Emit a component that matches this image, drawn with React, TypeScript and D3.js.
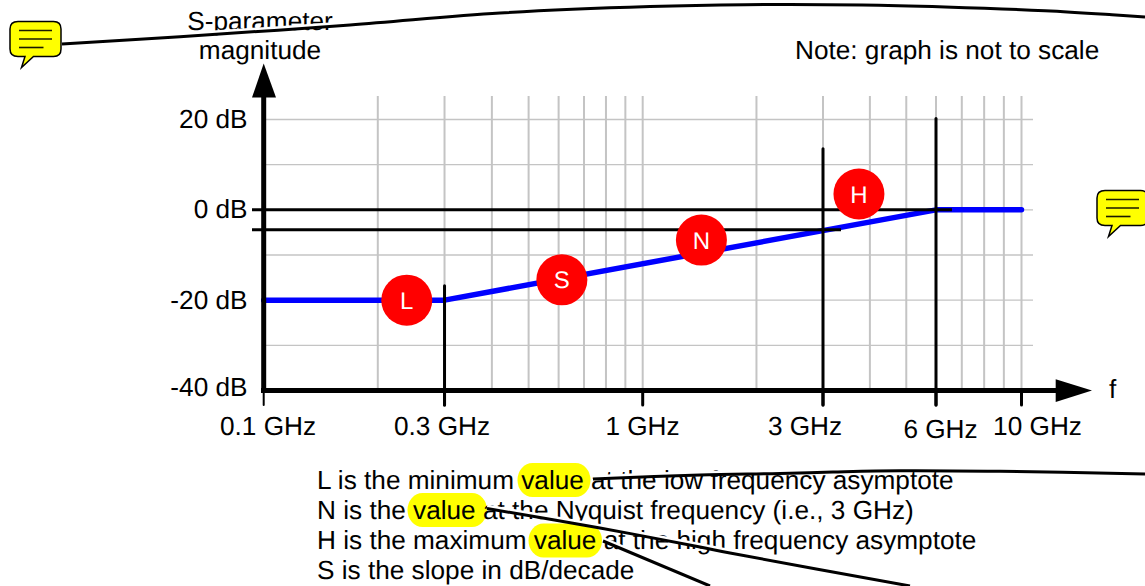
import React from "react";
import * as d3 from "d3";

const W = 1145, H = 586;
const FONT = "'Liberation Sans', Arial, sans-serif";
const TEXT_SIZE = 26.2;

const gridFreqs = [0.2, 0.3, 0.4, 0.5, 0.6, 0.7, 0.8, 0.9, 1, 2, 3, 4, 5, 6, 7, 8, 9, 10];
const gridDb = [20, 10, 0, -10, -20, -30];
const responseFreqs = [0.1, 0.3, 6, 10];
const responseDb = [-20, -20, 0, 0];
const yTickLabels = ["20 dB", "0 dB", "-20 dB", "-40 dB"];
const yTickDb = [20, 0, -20, -40];
const yLabelBaselines = [127.5, 218, 308.5, 396];
const xTickFreqs = [0.1, 0.3, 1, 3, 6, 10];
const xTickLabels = ["0.1 GHz", "0.3 GHz", "1 GHz", "3 GHz", "6 GHz", "10 GHz"];
const xLabelCenters = [268, 442, 642.5, 805, 940.5, 1037.5];
const xLabelBaselines = [435, 435, 435, 435, 437.5, 435];
const stemFreqs = [0.3, 3, 6];
const stemTopDb = [-16.8, 13.5, 20.2];
const levelDb = [0, -4.4];
const levelEndFreq = [6.6, 3.35];
const markerNames = ["L", "S", "N", "H"];
const markerFreqs = [0.2385, 0.612, 1.43, 3.74];
const markerDb = [-20, -15.5, -6.7, 3.5];
const noteLines = [
  "L is the minimum value at the low frequency asymptote",
  "N is the value at the Nyquist frequency (i.e., 3 GHz)",
  "H is the maximum value at the high frequency asymptote",
  "S is the slope in dB/decade",
];
const noteBaselines = [488.7, 518.7, 548.7, 578.7];

// Review-comment overlays (in page pixels, they are not chart data)
const commentTop: [number, number][] = [[62, 44], [180, 36.7], [350, 25], [500, 13], [650, 6.5], [745, 4.7], [862, 5], [945, 7], [1045, 10.7], [1112, 14.7], [1145, 17]];
const commentLow: [number, number][] = [[593, 479], [700, 475], [780, 473.5], [833, 472], [900, 470.7], [1000, 471.3], [1145, 474]];
const commentNyq: [number, number][] = [[487, 508.5], [600, 528], [700, 547], [730, 553], [910, 586]];
const commentHigh: [number, number][] = [[603, 541], [710, 586]];
const highlights = [
  { x: 517.5, y: 463, w: 73, h: 34 },
  { x: 407.5, y: 493, w: 79.5, h: 34 },
  { x: 528.5, y: 523.5, w: 73.5, h: 34 },
];
const iconOffsets = [[0, 0], [1087, 169]];

const x = d3.scaleLog().domain([0.1, 1, 3, 6, 10]).range([263.7, 642.7, 823, 936, 1021.5]);
const y = d3.scaleLinear().domain([-40, 20]).range([390.5, 119.5]);
const responsePath = d3.line<number>().x((d) => x(d)).y((_, i) => y(responseDb[i]))(responseFreqs) as string;
const curve = d3.line().curve(d3.curveCatmullRom.alpha(0.5));

function Comment({ pts }: { pts: [number, number][] }) {
  const d = curve(pts) as string;
  return (
    <g fill="none">
      <path d={d} stroke="#fff" strokeWidth={5} transform="translate(0,-1.5)" />
      <path d={d} stroke="#000" strokeWidth={3} />
    </g>
  );
}

function Icon({ dx, dy }: { dx: number; dy: number }) {
  return (
    <g transform={`translate(${dx},${dy})`}>
      <path
        d="M18,21.5 H53.5 Q61,21.5 61,29 V49 Q61,56.5 53.5,56.5 H33.5 L21.5,67.5 L25,56.5 H18 Q10,56.5 10,49 V29 Q10,21.5 18,21.5 Z"
        fill="#ffff00"
        stroke="#000"
        strokeWidth={1.5}
      />
      <g stroke="#1a1a00" strokeWidth={1.6}>
        <line x1={19} x2={52} y1={30.5} y2={30.5} />
        <line x1={19} x2={52} y1={39} y2={39} />
        <line x1={19} x2={43.5} y1={47.5} y2={47.5} />
      </g>
    </g>
  );
}

export default function App() {
  return (
    <svg
      width={W}
      height={H}
      viewBox={`0 0 ${W} ${H}`}
      textRendering="geometricPrecision"
      style={{ position: "absolute", left: 0, top: 0, background: "#fff", fontFamily: FONT }}
    >
      {gridDb.map((d) => (
        <line key={d} x1={264} x2={1033} y1={y(d)} y2={y(d)} stroke="#c4c4c4" strokeWidth={1.3} />
      ))}
      {gridFreqs.map((f) => (
        <line key={f} x1={x(f)} x2={x(f)} y1={96} y2={390} stroke="#c4c4c4" strokeWidth={2} />
      ))}

      <path d={responsePath} fill="none" stroke="#0000ff" strokeWidth={5.5} strokeLinecap="round" strokeLinejoin="round" />

      {levelDb.map((d, i) => (
        <line key={d} x1={252} x2={x(levelEndFreq[i])} y1={y(d)} y2={y(d)} stroke="#000" strokeWidth={3} />
      ))}
      {stemFreqs.map((f, i) => (
        <line key={f} x1={x(f)} x2={x(f)} y1={y(stemTopDb[i])} y2={405} stroke="#000" strokeWidth={3} strokeLinecap="round" />
      ))}
      {xTickFreqs.map((f) => (
        <line key={f} x1={x(f)} x2={x(f)} y1={390} y2={405} stroke="#000" strokeWidth={f === 0.1 ? 2 : 3} strokeLinecap="round" />
      ))}

      <line x1={263.7} x2={263.7} y1={392.5} y2={96} stroke="#000" strokeWidth={5} />
      <path d="M252,97.5 L263.7,63.5 L276,97.5 Z" fill="#000" />
      <line x1={261} x2={1058} y1={390.6} y2={390.6} stroke="#000" strokeWidth={5} />
      <path d="M1055.7,379.3 L1092,390.6 L1055.7,402 Z" fill="#000" />

      {markerNames.map((m, i) => (
        <g key={m}>
          <circle cx={x(markerFreqs[i])} cy={y(markerDb[i])} r={25.5} fill="#ff0000" />
          <text x={x(markerFreqs[i])} y={y(markerDb[i]) + 8.5} fontSize={24} textAnchor="middle" fill="#fff">
            {m}
          </text>
        </g>
      ))}

      <g fontSize={TEXT_SIZE} fill="#000">
        <text x={260} y={29.5} textAnchor="middle">S-parameter</text>
        <text x={260} y={58.7} textAnchor="middle">magnitude</text>
        <text x={795} y={58.7}>Note: graph is not to scale</text>
        {yTickDb.map((d, i) => (
          <text key={d} x={247.5} y={yLabelBaselines[i]} textAnchor="end">{yTickLabels[i]}</text>
        ))}
        {xTickLabels.map((t, i) => (
          <text key={t} x={xLabelCenters[i]} y={xLabelBaselines[i]} textAnchor="middle">{t}</text>
        ))}
        <text x={1109} y={397.5}>f</text>
      </g>

      {highlights.map((h, i) => (
        <rect key={i} x={h.x} y={h.y} width={h.w} height={h.h} rx={15} ry={17} fill="#ffff00" />
      ))}
      <g fontSize={TEXT_SIZE} fill="#000">
        {noteLines.map((t, i) => (
          <text key={t} x={317} y={noteBaselines[i]}>{t}</text>
        ))}
      </g>

      <Comment pts={commentTop} />
      <Comment pts={commentLow} />
      <Comment pts={commentNyq} />
      <Comment pts={commentHigh} />
      {iconOffsets.map(([dx, dy]) => (
        <Icon key={dx} dx={dx} dy={dy} />
      ))}
    </svg>
  );
}
